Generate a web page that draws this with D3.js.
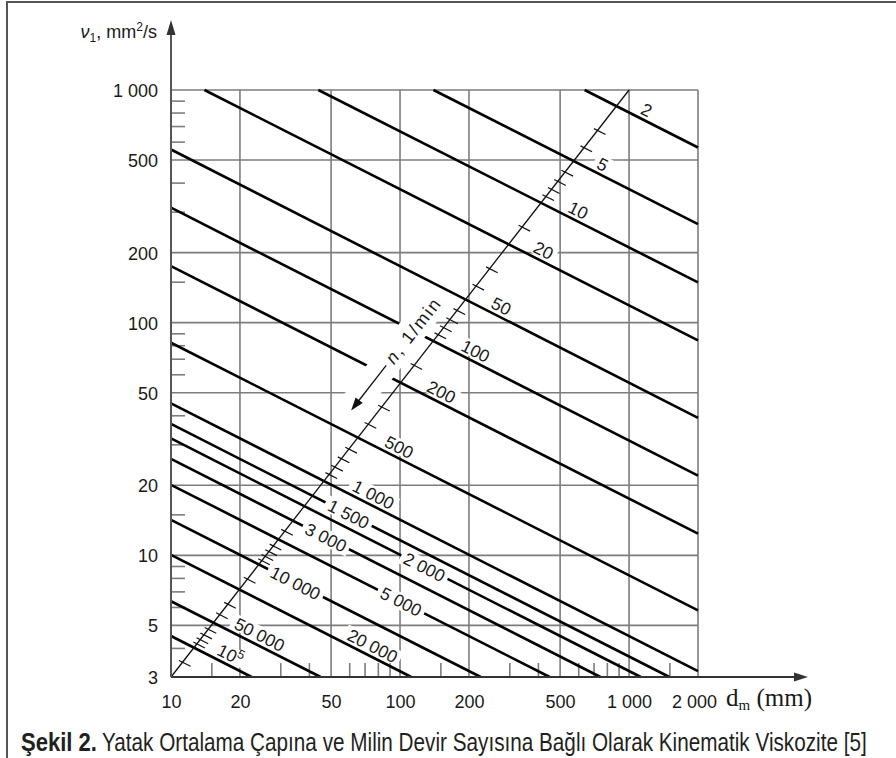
<!DOCTYPE html>
<html>
<head>
<meta charset="utf-8">
<script src="https://cdn.jsdelivr.net/npm/d3@7"></script>
<style>
  body { margin: 0; background: #fff; }
  svg { display: block; }
  text { font-family: "Liberation Sans", Arial, sans-serif; fill: #1a1a1a; }
</style>
</head>
<body>
<svg id="chart" width="896" height="758"></svg>
<script>
// speed n (1/min) of each line, as printed along the n scale
var nValues = [2, 5, 10, 20, 50, 100, 200, 500, 1000, 1500, 2000, 3000, 5000, 10000, 20000, 50000, 100000];
var nLabels = ['2', '5', '10', '20', '50', '100', '200', '500', '1 000', '1 500', '2 000', '3 000', '5 000', '10 000', '20 000', '50 000', '10^5'];
// where each line enters and leaves the grid (dm in mm, v1 in mm2/s)
var startDm = [640, 140, 44, 14, 10, 10, 10, 10, 10, 10, 10, 10, 10, 10, 10, 10, 10];
var startNu = [1000, 1000, 1000, 1000, 555, 312, 175, 82, 45, 36.7, 31.8, 26, 20.1, 14.2, 10.05, 6.35, 4.5];
var endDm = [2000, 2000, 2000, 2000, 2000, 2000, 2000, 2000, 2000, 1500, 1125, 750, 450, 225, 112, 45, 22.5];
var endNu = [566, 265, 149, 84, 39, 22, 12.4, 5.8, 3.18, 3, 3, 3, 3, 3, 3, 3, 3];

var xTicks = [10, 20, 50, 100, 200, 500, 1000, 2000];
var xTickLabels = ['10', '20', '50', '100', '200', '500', '1 000', '2 000'];
var yTicks = [3, 5, 10, 20, 50, 100, 200, 500, 1000];
var yTickLabels = ['3', '5', '10', '20', '50', '100', '200', '500', '1 000'];
var xMinor = [15, 30, 40, 60, 70, 80, 90, 150, 300, 400, 600, 700, 800, 900, 1500];
var yMinor = [4, 6, 7, 8, 9, 15, 30, 40, 60, 70, 80, 90, 150, 300, 400, 600, 700, 800, 900];
var nMinor = [3, 4, 6, 7, 8, 9, 15, 30, 40, 60, 70, 80, 90, 150, 300, 400, 600, 700, 800, 900,
  4000, 6000, 7000, 8000, 9000, 15000, 30000, 40000, 60000, 70000, 80000, 90000, 150000];

// the n scale runs diagonally between these two grid points
var diagDm = [10, 1000];
var diagNu = [3, 1000];

// label placement: dm where each label starts, and whether it cuts the line
var labelAt = [1090, 700, 525, 370, 242, 179, 127, 83, 60, 49, 105, 39, 83, 27.5, 57, 18.3, 15.4];
var labelGap = [0, 0, 0, 0, 0, 0, 0, 0, 0, 1, 1, 1, 1, 1, 0, 0, 0];

var svg = d3.select('#chart');
var x = d3.scaleLog().domain([10, 2000]).range([171, 698]);
var y = d3.scaleLog().domain([3, 1000]).range([677, 90]);

// frame
svg.append('path')
  .attr('d', 'M7,760 L7,2 L900,2')
  .attr('fill', 'none').attr('stroke', '#555').attr('stroke-width', 2);

// grid
var grid = svg.append('g').attr('stroke', '#7d7d7d').attr('stroke-width', 1.6);
grid.selectAll('.vg').data(xTicks.slice(1)).enter().append('line')
  .attr('x1', function(d) { return x(d); }).attr('x2', function(d) { return x(d); })
  .attr('y1', y(3)).attr('y2', y(1000));
grid.selectAll('.hg').data(yTicks.slice(1)).enter().append('line')
  .attr('y1', function(d) { return y(d); }).attr('y2', function(d) { return y(d); })
  .attr('x1', x(10)).attr('x2', x(2000));

// minor ticks on both axes
var xm = svg.append('g').attr('transform', 'translate(0,' + y(3) + ')')
  .call(d3.axisTop(x).tickValues(xMinor).tickSize(14).tickFormat(''));
var ym = svg.append('g').attr('transform', 'translate(' + x(10) + ',0)')
  .call(d3.axisRight(y).tickValues(yMinor).tickSize(14).tickFormat(''));
[xm, ym].forEach(function(a) {
  a.select('.domain').remove();
  a.selectAll('line').attr('stroke', '#7d7d7d').attr('stroke-width', 1.6);
});

var bgUnder = svg.append('g');
var lineLayer = svg.append('g');
var bgOver = svg.append('g');
var nLayer = svg.append('g');
var labelLayer = svg.append('g');

// the n lines
var pts = nValues.map(function(n, i) {
  return [[x(startDm[i]), y(startNu[i])], [x(endDm[i]), y(endNu[i])]];
});
lineLayer.selectAll('line').data(pts).enter().append('line')
  .attr('x1', function(d) { return d[0][0]; }).attr('y1', function(d) { return d[0][1]; })
  .attr('x2', function(d) { return d[1][0]; }).attr('y2', function(d) { return d[1][1]; })
  .attr('stroke', '#000').attr('stroke-width', 2.6);

// diagonal n scale
var P0 = [x(diagDm[0]), y(diagNu[0])];
var P1 = [x(diagDm[1]), y(diagNu[1])];
var dLen = Math.hypot(P1[0] - P0[0], P1[1] - P0[1]);
var u = [(P1[0] - P0[0]) / dLen, (P1[1] - P0[1]) / dLen];
var diagAngle = Math.atan2(u[1], u[0]) * 180 / Math.PI;

function crossDiag(seg) {
  var A = seg[0], B = seg[1];
  var r = [B[0] - A[0], B[1] - A[1]];
  var q = [P1[0] - P0[0], P1[1] - P0[1]];
  var den = r[0] * q[1] - r[1] * q[0];
  var w = [P0[0] - A[0], P0[1] - A[1]];
  var s = (w[0] * r[1] - w[1] * r[0]) / den;
  return s * dLen;
}
var nScale = d3.scaleLog().domain(nValues).range(pts.map(crossDiag));
var v0 = pts[0];
var vl = Math.hypot(v0[1][0] - v0[0][0], v0[1][1] - v0[0][1]);
var v = [(v0[1][0] - v0[0][0]) / vl, (v0[1][1] - v0[0][1]) / vl];

// white band behind "n, 1/min" and its arrow
var nGroup = nLayer.append('g')
  .attr('transform', 'translate(' + P0[0] + ',' + P0[1] + ') rotate(' + diagAngle + ')');
nGroup.append('rect').attr('x', 316).attr('y', -37.5).attr('width', 147).attr('height', 28.5).attr('fill', '#fff');

nLayer.append('line')
  .attr('x1', P0[0]).attr('y1', P0[1]).attr('x2', P1[0]).attr('y2', P1[1])
  .attr('stroke', '#111').attr('stroke-width', 1.3);
nLayer.selectAll('.nt').data(nMinor).enter().append('line')
  .attr('x1', function(d) { return P0[0] + u[0] * nScale(d) - 4 * v[0]; })
  .attr('y1', function(d) { return P0[1] + u[1] * nScale(d) - 4 * v[1]; })
  .attr('x2', function(d) { return P0[0] + u[0] * nScale(d) + 9 * v[0]; })
  .attr('y2', function(d) { return P0[1] + u[1] * nScale(d) + 9 * v[1]; })
  .attr('stroke', '#111').attr('stroke-width', 1.2);

var nText = nGroup.append('text').attr('x', 383).attr('y', -16)
  .attr('font-size', 18).attr('textLength', 77).attr('lengthAdjust', 'spacing');
nText.append('tspan').attr('font-style', 'italic').text('n');
nText.append('tspan').text(', 1/min');
nGroup.append('line').attr('x1', 378).attr('y1', -22).attr('x2', 332).attr('y2', -22)
  .attr('stroke', '#111').attr('stroke-width', 1.3);
nGroup.append('path').attr('d', 'M321,-22 L334,-26.5 L334,-17.5 Z').attr('fill', '#111');

// line labels
var fs = 17.5, cap = 0.716 * fs;
nLabels.forEach(function(lab, i) {
  var A = pts[i][0], B = pts[i][1];
  var px = x(labelAt[i]);
  var t = (px - A[0]) / (B[0] - A[0]);
  var py = A[1] + t * (B[1] - A[1]);
  var ang = Math.atan2(B[1] - A[1], B[0] - A[0]) * 180 / Math.PI;
  var tr = 'translate(' + px + ',' + py + ') rotate(' + ang + ')';
  var base = labelGap[i] ? cap / 2 : -4;
  var tg = labelLayer.append('g').attr('transform', tr);
  var txt = tg.append('text').attr('x', 0).attr('y', base).attr('font-size', fs);
  if (lab === '10^5') {
    txt.append('tspan').text('10');
    txt.append('tspan').attr('font-size', 12.5).attr('dy', -7).text('5');
  } else {
    txt.text(lab);
  }
  var w = txt.node().getComputedTextLength();
  var layer = labelGap[i] ? bgOver : bgUnder;
  layer.append('rect').attr('transform', tr)
    .attr('x', -4).attr('width', w + 8)
    .attr('y', base - cap - 2).attr('height', cap + (labelGap[i] ? 4 : 3))
    .attr('fill', '#fff');
});

// axes
var axisCol = '#333';
svg.append('line').attr('x1', x(10)).attr('x2', 798).attr('y1', y(3)).attr('y2', y(3))
  .attr('stroke', axisCol).attr('stroke-width', 2);
svg.append('path').attr('d', 'M808,' + y(3) + ' L794,' + (y(3) - 4.5) + ' L794,' + (y(3) + 4.5) + ' Z')
  .attr('fill', axisCol);
svg.append('line').attr('x1', x(10)).attr('x2', x(10)).attr('y1', y(3)).attr('y2', 30)
  .attr('stroke', '#555').attr('stroke-width', 2);
svg.append('path').attr('d', 'M' + x(10) + ',20 L' + (x(10) - 4.5) + ',35 L' + (x(10) + 4.5) + ',35 Z')
  .attr('fill', axisCol);

var xa = svg.append('g').attr('transform', 'translate(0,' + y(3) + ')')
  .call(d3.axisBottom(x).tickValues(xTicks).tickSize(0)
    .tickFormat(function(d, i) { return xTickLabels[i]; }));
xa.select('.domain').remove();
xa.selectAll('text').attr('y', 31).attr('dy', 0).attr('font-size', 18)
  .attr('font-family', '"Liberation Sans", Arial, sans-serif').attr('fill', '#1a1a1a');
// the last label sits a little left of its grid line in the original
xa.selectAll('text').filter(function(d) { return d === 2000; }).attr('x', -4);

var ya = svg.append('g').attr('transform', 'translate(' + x(10) + ',0)')
  .call(d3.axisLeft(y).tickValues(yTicks).tickSize(0).tickPadding(13)
    .tickFormat(function(d, i) { return yTickLabels[i]; }));
ya.select('.domain').remove();
ya.selectAll('text').attr('dy', '0.36em').attr('font-size', 18)
  .attr('font-family', '"Liberation Sans", Arial, sans-serif').attr('fill', '#1a1a1a');

// axis titles
var yt = svg.append('text').attr('x', 157).attr('y', 38).attr('text-anchor', 'end').attr('font-size', 18);
yt.append('tspan').attr('font-style', 'italic').text('\u03bd');
yt.append('tspan').attr('font-size', 12).attr('dy', 4).text('1');
yt.append('tspan').attr('dy', -4).text(', mm');
yt.append('tspan').attr('font-size', 12).attr('dy', -7).text('2');
yt.append('tspan').attr('dy', 7).text('/s');

var xt = svg.append('text').attr('x', 726).attr('y', 706).attr('font-size', 25)
  .style('font-family', '"Liberation Serif", "Times New Roman", serif');
xt.append('tspan').text('d');
xt.append('tspan').attr('font-size', 15).attr('dy', 4).text('m');
xt.append('tspan').attr('dy', -4).text(' (mm)');

// caption, squeezed horizontally like the condensed face of the original
function squeezed(str, x0, x1, bold) {
  var g = svg.append('g');
  var t = g.append('text').attr('x', 0).attr('y', 0).attr('font-size', 26)
    .style('fill', '#231f20').text(str);
  if (bold) t.attr('font-weight', 'bold');
  var k = (x1 - x0) / t.node().getComputedTextLength();
  g.attr('transform', 'translate(' + x0 + ',751) scale(' + k + ',1)');
}
squeezed('\u015eekil 2.', 21, 97, true);
squeezed('Yatak Ortalama \u00c7ap\u0131na ve Milin Devir Say\u0131s\u0131na Ba\u011fl\u0131 Olarak Kinematik Viskozite [5]', 102, 867, false);
</script>
</body>
</html>
